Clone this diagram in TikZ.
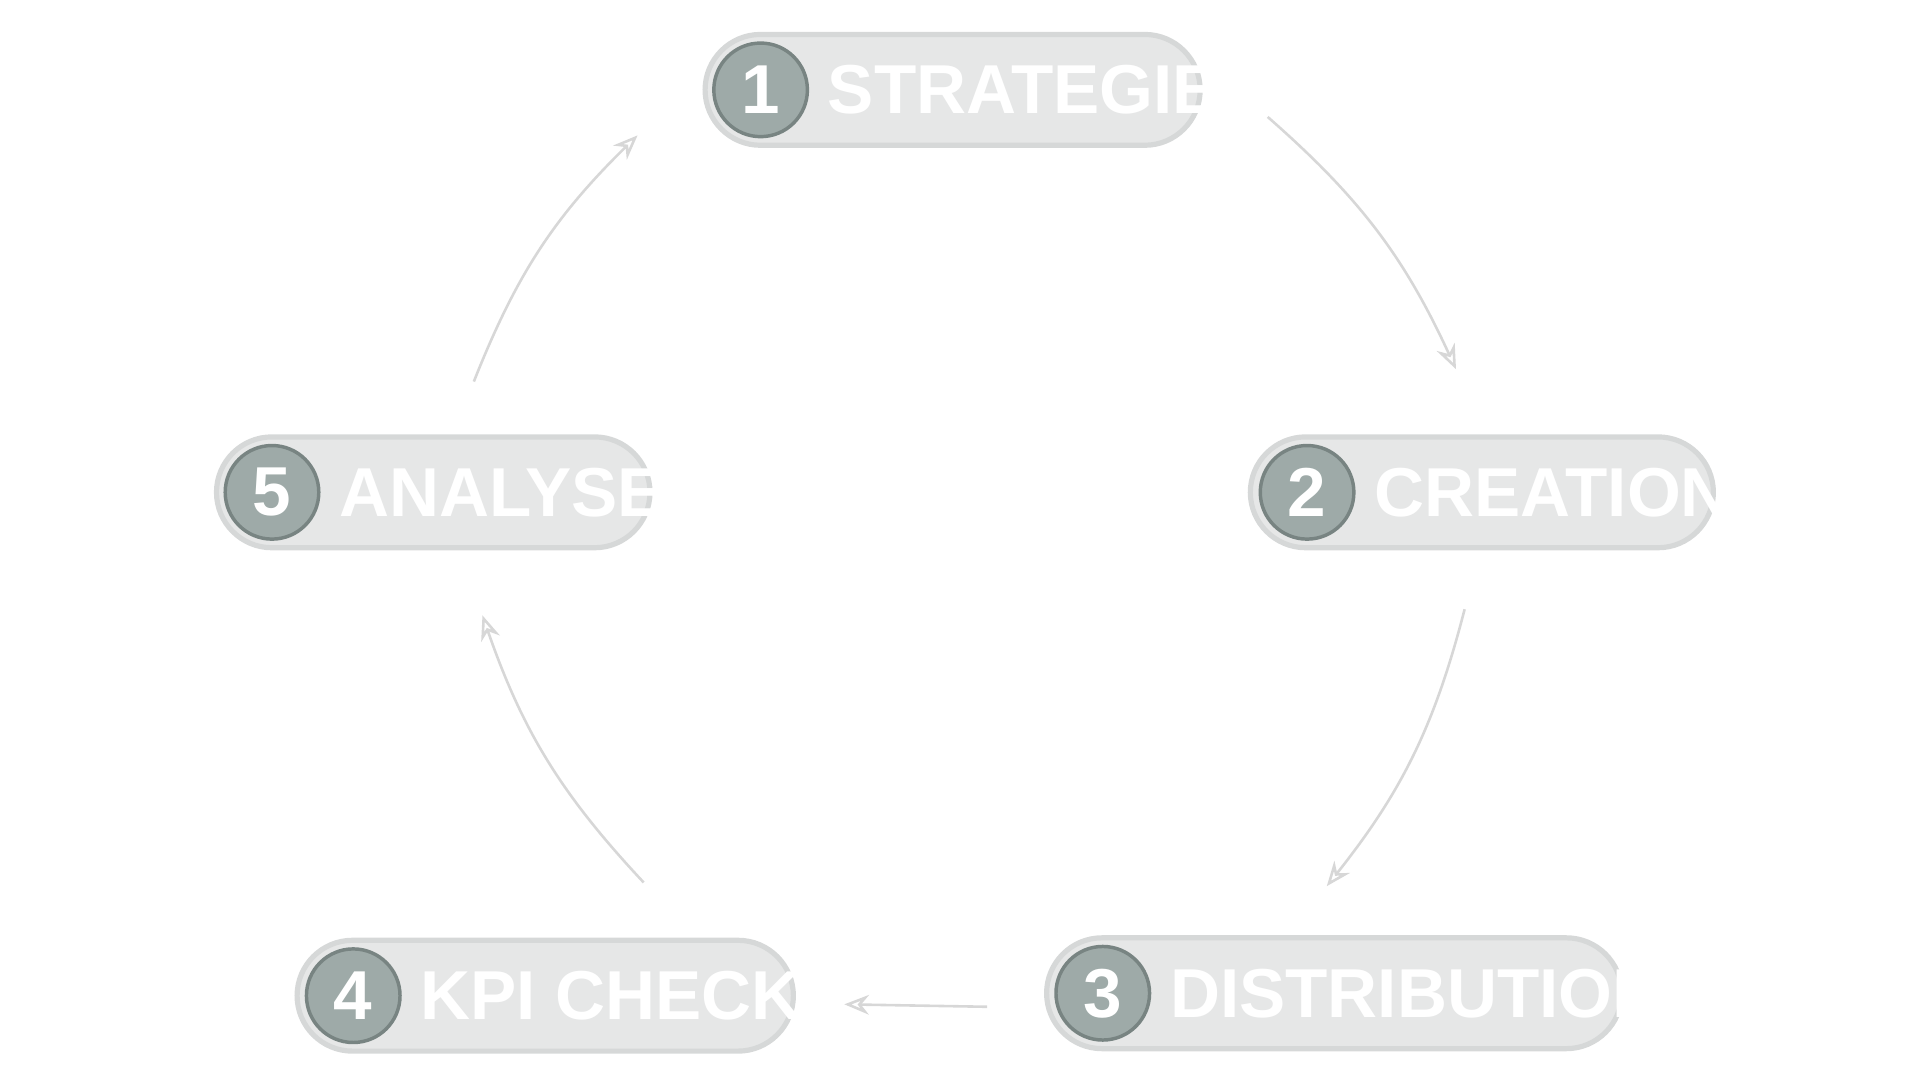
\documentclass[tikz,border=0pt]{standalone}
\usepackage{fontspec}
\setmainfont{Liberation Sans}
\usetikzlibrary{positioning,arrows.meta}
\definecolor{pillfill}{RGB}{230,231,231}
\definecolor{pilldraw}{RGB}{214,216,216}
\definecolor{numfill}{RGB}{158,170,168}
\definecolor{numdraw}{RGB}{120,132,130}
\definecolor{arrowgray}{RGB}{215,215,215}
\begin{document}
\begin{tikzpicture}[x=0.01cm,y=-0.01cm]
    \tikzset{
        pill/.style={draw=pilldraw, line width=1.2pt, fill=pillfill, rounded corners=0.45cm, minimum height=0.9cm},
        num/.style={circle, draw=numdraw, line width=0.8pt, fill=numfill, minimum size=0.76cm, inner sep=0pt, text=white, font=\fontsize{16}{16}\selectfont\bfseries},
        label/.style={text=white, anchor=west, inner sep=0pt, font=\fontsize{16}{16}\selectfont\bfseries},
        flow/.style={-{Stealth[open,length=0.2cm,width=0.16cm]}, draw=arrowgray, line width=0.6pt}
    }
    \useasboundingbox (0,0) rectangle (1560,878);

    % Schritte
    \node[pill, minimum width=4.02cm] (pill1) at (774,73) {};
    \node[num] (num1) at (618,73) {1};
    \node[label] (txt1) at (672,73) {STRATEGIE};

    \node[pill, minimum width=3.76cm] (pill2) at (1204,400) {};
    \node[num] (num2) at (1062,400) {2};
    \node[label] (txt2) at (1116,400) {CREATION};

    \node[pill, minimum width=4.67cm] (pill3) at (1084,807) {};
    \node[num] (num3) at (896,807) {3};
    \node[label] (txt3) at (950,807) {DISTRIBUTION};

    \node[pill, minimum width=4.03cm] (pill4) at (443,809) {};
    \node[num] (num4) at (287,809) {4};
    \node[label] (txt4) at (341,809) {KPI CHECK};

    \node[pill, minimum width=3.52cm] (pill5) at (352,400) {};
    \node[num] (num5) at (221,400) {5};
    \node[label] (txt5) at (275,400) {ANALYSE};

    % Pfeilenden
    \coordinate (a1) at (1030,95);   \coordinate (b1) at (1183,300);
    \coordinate (a2) at (1190,495);  \coordinate (b2) at (1078,720);
    \coordinate (a3) at (802,818);   \coordinate (b3) at (686,816);
    \coordinate (a4) at (523,717);   \coordinate (b4) at (392,500);
    \coordinate (a5) at (385,310);   \coordinate (b5) at (518,110);

    % Kreislauf
    \draw[flow] (a1) to[bend left=12] (b1);
    \draw[flow] (a2) to[bend left=12] (b2);
    \draw[flow] (a3) to (b3);
    \draw[flow] (a4) to[bend left=12] (b4);
    \draw[flow] (a5) to[bend left=12] (b5);
\end{tikzpicture}
\end{document}
